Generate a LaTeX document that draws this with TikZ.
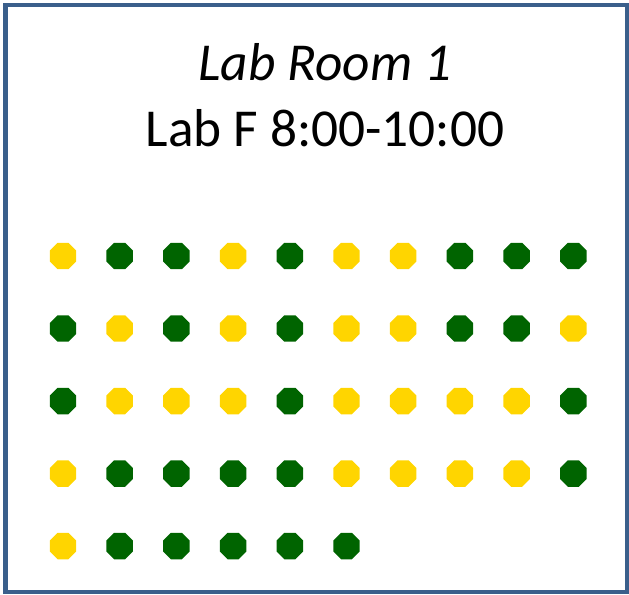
\documentclass[tikz,border=0pt]{standalone}
\usepackage{fontspec}
\setmainfont{Carlito}
\usetikzlibrary{shapes.geometric}
\definecolor{frameblue}{HTML}{3A5F8B}
\definecolor{seatyellow}{HTML}{FFD500}
\definecolor{seatgreen}{HTML}{006400}
\tikzset{
  seat/.style={regular polygon,regular polygon sides=8,minimum size=21.5pt,inner sep=0pt},
  seatY/.style={seat,fill=seatyellow},
  seatG/.style={seat,fill=seatgreen},
}
\begin{document}
\begin{tikzpicture}[x=0.75pt,y=-0.75pt]
  \useasboundingbox (0,0) rectangle (629,594);
  % room frame
  \draw[frameblue,line width=3.2pt] (5.5,5) rectangle (627,592);

  \node (title) at (325,62) {\fontsize{40}{46}\selectfont\itshape Lab Room 1};
  \node (slot) at (325,128) {\fontsize{40}{46}\selectfont Lab F 8:00-10:00};

  % seats, row by row
  \foreach \row/\seats in {1/{Y,G,G,Y,G,Y,Y,G,G,G},
                           2/{G,Y,G,Y,G,Y,Y,G,G,Y},
                           3/{G,Y,Y,Y,G,Y,Y,Y,Y,G},
                           4/{Y,G,G,G,G,Y,Y,Y,Y,G},
                           5/{Y,G,G,G,G,G}}
    \foreach \c [count=\col] in \seats
      \node[seat\c] (s-\row-\col) at ({63+56.7*(\col-1)},{256+72.5*(\row-1)}) {};
\end{tikzpicture}
\end{document}
